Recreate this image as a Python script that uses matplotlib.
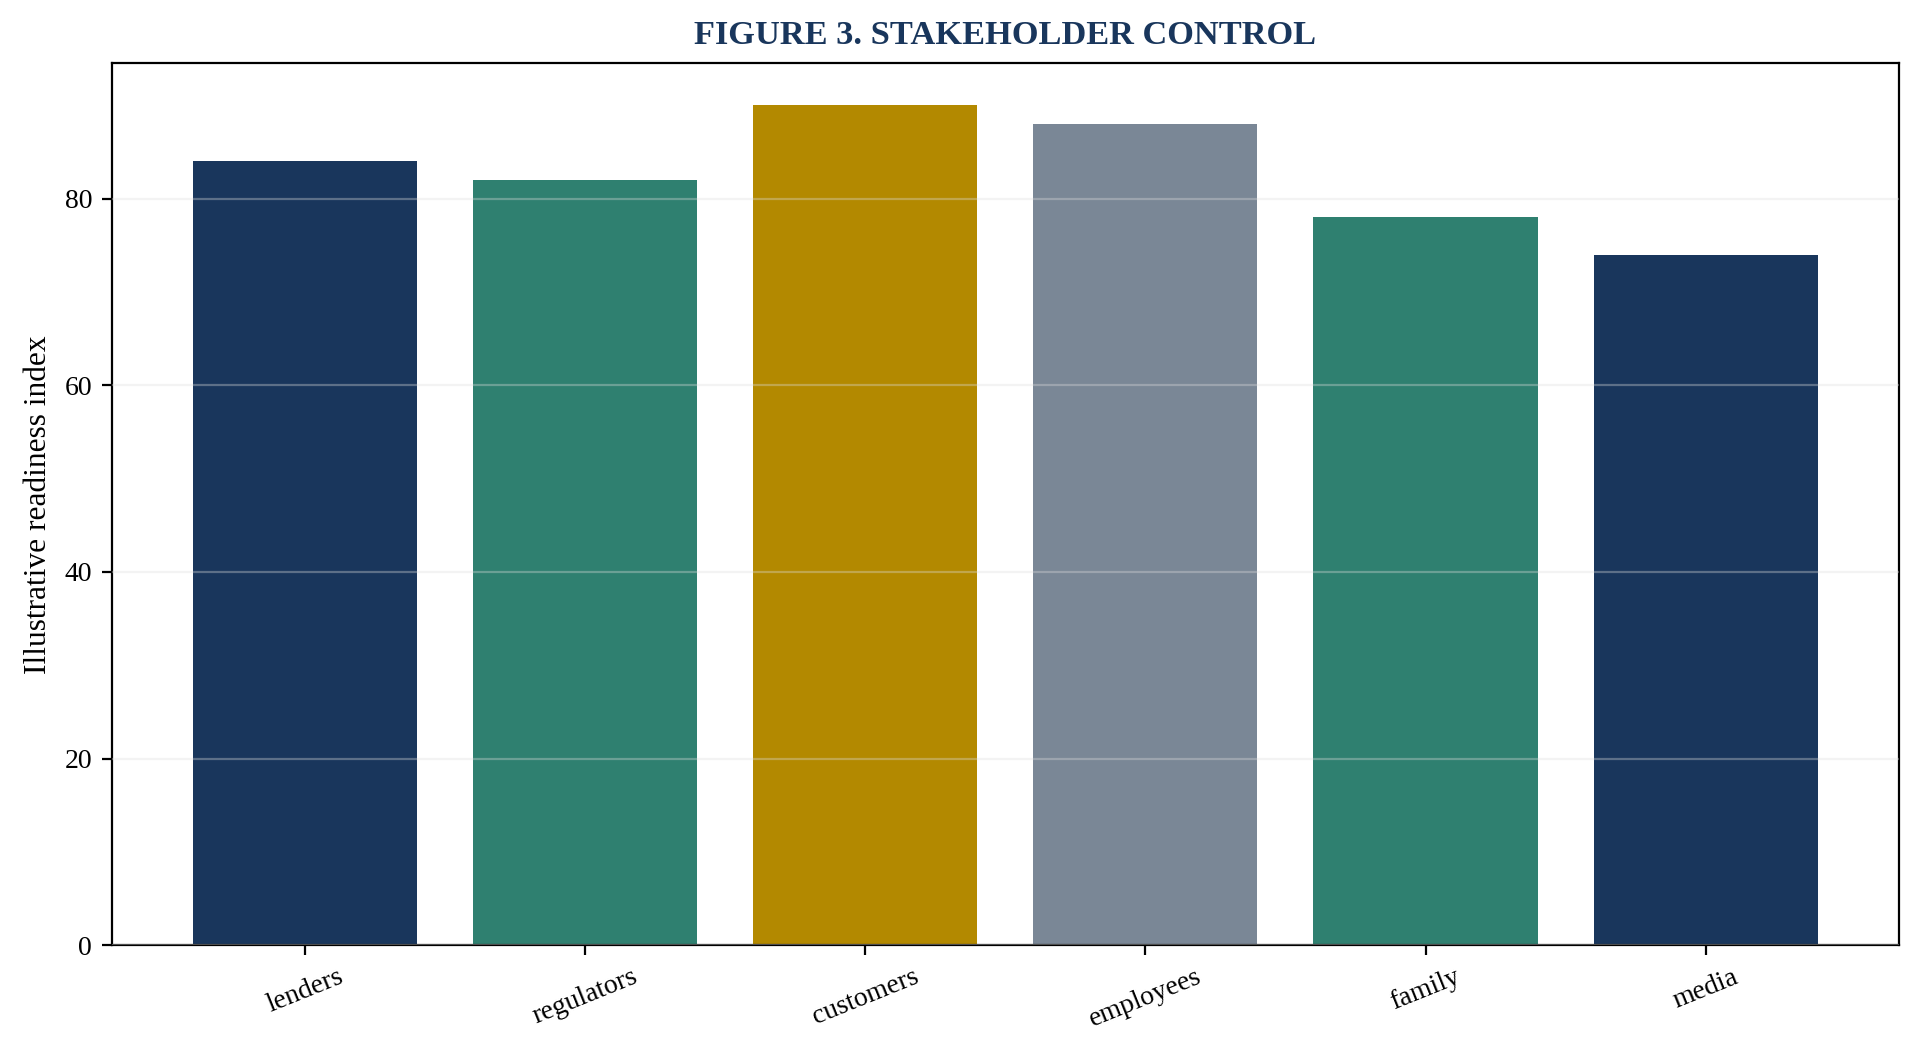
import matplotlib
matplotlib.use("Agg")
import matplotlib.pyplot as plt
import numpy as np

# ── Data ──────────────────────────────────────────────────────────────────────
stakeholders = ["lenders", "regulators", "customers", "employees", "family", "media"]
readiness = [84, 82, 90, 88, 78, 74]
bar_colors = ["#19365C", "#2F8070", "#B38900", "#7A8796", "#2F8070", "#19365C"]

plt.rcParams.update({
    "font.family": "Liberation Serif",
    "font.size": 10,
    "axes.edgecolor": "black",
    "axes.linewidth": 0.8,
})

fig, ax = plt.subplots(figsize=(9.62, 5.28), dpi=200)
fig.subplots_adjust(left=0.058, right=0.987, top=0.940, bottom=0.105)

xs = np.arange(len(stakeholders))
ax.bar(xs, readiness, color=bar_colors, width=0.8)
ax.set_xticks(xs)
ax.set_xticklabels(stakeholders, rotation=22)
ax.tick_params(labelsize=10)
ax.set_ylabel("Illustrative readiness index", fontsize=11.3)
ax.set_title("FIGURE 3. STAKEHOLDER CONTROL", fontsize=12.4, fontweight="bold",
             color="#19365C", pad=7)
ax.yaxis.grid(True, color="#DDDDDD", linewidth=0.8, alpha=0.35)
ax.set_axisbelow(False)

fig.savefig("out.png", dpi=200)
